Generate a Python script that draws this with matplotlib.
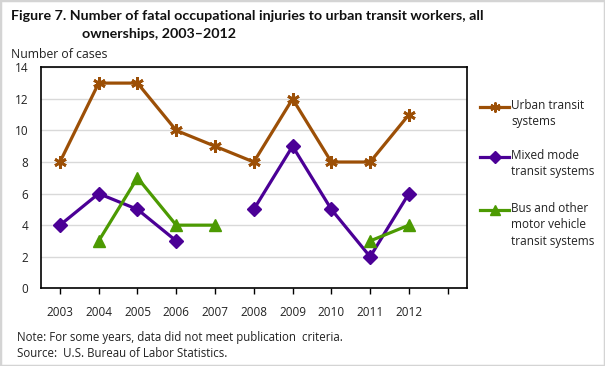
import matplotlib
matplotlib.use("Agg")
import matplotlib.pyplot as plt
import numpy as np
from matplotlib.lines import Line2D
from matplotlib.patches import Rectangle

plt.rcParams['font.family'] = ['Open Sans', 'DejaVu Sans']

years = ['2003', '2004', '2005', '2006', '2007', '2008', '2009', '2010', '2011', '2012']
urban = [8, 13, 13, 10, 9, 8, 12, 8, 8, 11]
mixed = [4, 6, 5, 3, np.nan, 5, 9, 5, 2, 6]
bus = [np.nan, 3, 7, 4, 4, np.nan, np.nan, np.nan, 3, 4]
yticks = [0, 2, 4, 6, 8, 10, 12, 14]

labels = ['Urban transit\nsystems', 'Mixed mode\ntransit systems',
          'Bus and other\nmotor vehicle\ntransit systems']
colors = ['#9C4F06', '#4B0096', '#4C9A02']
markers = [(6, 2, 0), 'D', '^']
msizes = [9, 7.5, 8.5]

fig = plt.figure(figsize=(6.05, 3.66), dpi=100)
fig.patches.append(Rectangle((0, 0), 1, 1, transform=fig.transFigure,
                             fill=False, edgecolor='#d4d4d4', linewidth=2.5))
ax = fig.add_axes([0.067, 0.2123, 0.705, 0.6038])

x = np.arange(len(years))
for vals, c, m, ms in zip([urban, mixed, bus], colors, markers, msizes):
    ax.plot(x, vals, color=c, lw=2.3, marker=m, ms=ms, mew=2 if m == (6, 2, 0) else 1,
            mec=c, mfc=c, zorder=3, solid_joinstyle='miter')

ax.set_xlim(-0.5, 10.5)
ax.set_ylim(0, 14)
ax.set_yticks(yticks)
ax.set_xticks(np.arange(11))
ax.set_xticklabels(years + [''])
ax.grid(axis='y', color='#d9d9d9', lw=1)
ax.set_axisbelow(True)
for s in ax.spines.values():
    s.set_color('black')
    s.set_linewidth(1.2)
ax.tick_params(axis='y', length=0, pad=9, labelsize=8.5, colors='#222222')
ax.tick_params(axis='x', direction='out', length=4, width=1, pad=9, labelsize=8.5,
               colors='black', labelcolor='#222222')

fig.text(0.018, 0.955, 'Figure 7. Number of fatal occupational injuries to urban transit workers, all',
         fontsize=10.3, fontweight='bold', family=['Lato', 'DejaVu Sans'],
         ha='left', va='center', color='#111111')
fig.text(0.136, 0.908, 'ownerships, 2003\u20132012',
         fontsize=10.3, fontweight='bold', family=['Lato', 'DejaVu Sans'],
         ha='left', va='center', color='#111111')
fig.text(0.018, 0.85, 'Number of cases', fontsize=8.8, ha='left', va='center', color='#222222')

fig.text(0.028, 0.077, 'Note: For some years, data did not meet publication  criteria.',
         fontsize=8.3, ha='left', va='center', color='#222222')
fig.text(0.028, 0.034, 'Source:  U.S. Bureau of Labor Statistics.',
         fontsize=8.3, ha='left', va='center', color='#222222')

# legend
leg_y = [107, 157, 210]
for lab, c, m, ms, yy in zip(labels, colors, markers, msizes, leg_y):
    yf = 1 - yy / 366
    fig.add_artist(Line2D([480 / 605, 509 / 605], [yf, yf], transform=fig.transFigure,
                          color=c, lw=2.3))
    fig.add_artist(Line2D([494.5 / 605], [yf], transform=fig.transFigure, color=c,
                          marker=m, ms=ms * 0.8, mew=1.5 if m == (6, 2, 0) else 1,
                          mec=c, mfc=c))
    fig.text(511 / 605, yf + 0.022, lab, fontsize=8.5, ha='left', va='top',
             color='#222222', linespacing=1.35)

fig.savefig('out.png', dpi=100)
